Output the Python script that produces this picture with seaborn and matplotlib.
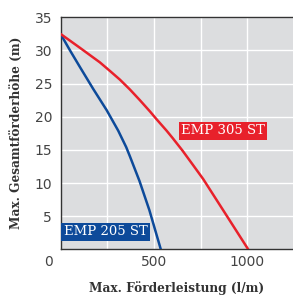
import matplotlib
matplotlib.use("Agg")
import matplotlib.pyplot as plt
import seaborn as sns
import pandas as pd

# pump curves (flow l/m, head m)
emp205_flow = [0, 51, 104, 175, 211, 247, 265, 309, 352, 372, 423, 476, 537]
emp205_head = [32.5, 30.0, 27.5, 24.2, 22.6, 21.0, 20.1, 17.9, 15.4, 14.0, 10.3, 5.9, 0]
emp305_flow = [0, 104, 211, 265, 318, 372, 425, 479, 515, 568, 600, 653, 710, 764, 871, 1005]
emp305_head = [32.5, 30.4, 28.2, 26.9, 25.6, 24.1, 22.5, 20.8, 19.6, 17.9, 16.8, 14.9, 12.7, 10.6, 5.9, 0]

series_names = ["EMP 205 ST", "EMP 305 ST"]
series_colors = ["#0d4a9a", "#e8212b"]
label_pos = [(241, 2.65), (871, 17.85)]

x_ticks = [500, 1000]
x_grid = [250, 500, 750, 1000]
y_ticks = [5, 10, 15, 20, 25, 30, 35]

df = pd.concat([
    pd.DataFrame({"flow": emp205_flow, "head": emp205_head, "pump": series_names[0]}),
    pd.DataFrame({"flow": emp305_flow, "head": emp305_head, "pump": series_names[1]}),
])

sns.set_theme(style="white")
plt.rcParams["font.family"] = ["DejaVu Sans"]

fig = plt.figure(figsize=(2.93, 2.98), dpi=100)
ax = fig.add_axes([0.2065, 0.1634, 0.7935, 0.7785])
ax.set_facecolor("#dcdddf")

for x in x_grid:
    ax.axvline(x, color="white", lw=1.0, zorder=1)
for y in y_ticks:
    ax.axhline(y, color="white", lw=1.0, zorder=1)

sns.lineplot(data=df, x="flow", y="head", hue="pump", palette=series_colors,
             sort=False, estimator=None, lw=1.8, legend=False, ax=ax, zorder=3)

for name, col, (lx, ly) in zip(series_names, series_colors, label_pos):
    ax.text(lx, ly, name, color="white", fontsize=9.5, family="DejaVu Serif",
            ha="center", va="center", zorder=4,
            bbox=dict(boxstyle="square,pad=0.18", fc=col, ec="none"))

ax.set_xlim(0, 1245)
ax.set_ylim(0, 35)
ax.set_xticks(x_ticks)
ax.set_yticks(y_ticks)
ax.tick_params(axis="y", length=0, labelsize=10, labelcolor="#444444", pad=6)
ax.tick_params(axis="x", length=0, labelsize=10, labelcolor="#444444", pad=4)
ax.text(-0.05, -0.025, "0", transform=ax.transAxes, fontsize=10,
        color="#444444", ha="center", va="top")

for side in ["left", "bottom", "top"]:
    ax.spines[side].set_color("#333333")
    ax.spines[side].set_linewidth(1.0)
ax.spines["right"].set_visible(False)

ax.set_xlabel("Max. Förderleistung (l/m)", fontsize=8.7, fontweight="bold",
              family="DejaVu Serif", color="#333333", labelpad=9)
ax.set_ylabel("Max. Gesamtförderhöhe (m)", fontsize=8.7, fontweight="bold",
              family="DejaVu Serif", color="#333333", labelpad=8)

fig.savefig("out.png", dpi=100)
